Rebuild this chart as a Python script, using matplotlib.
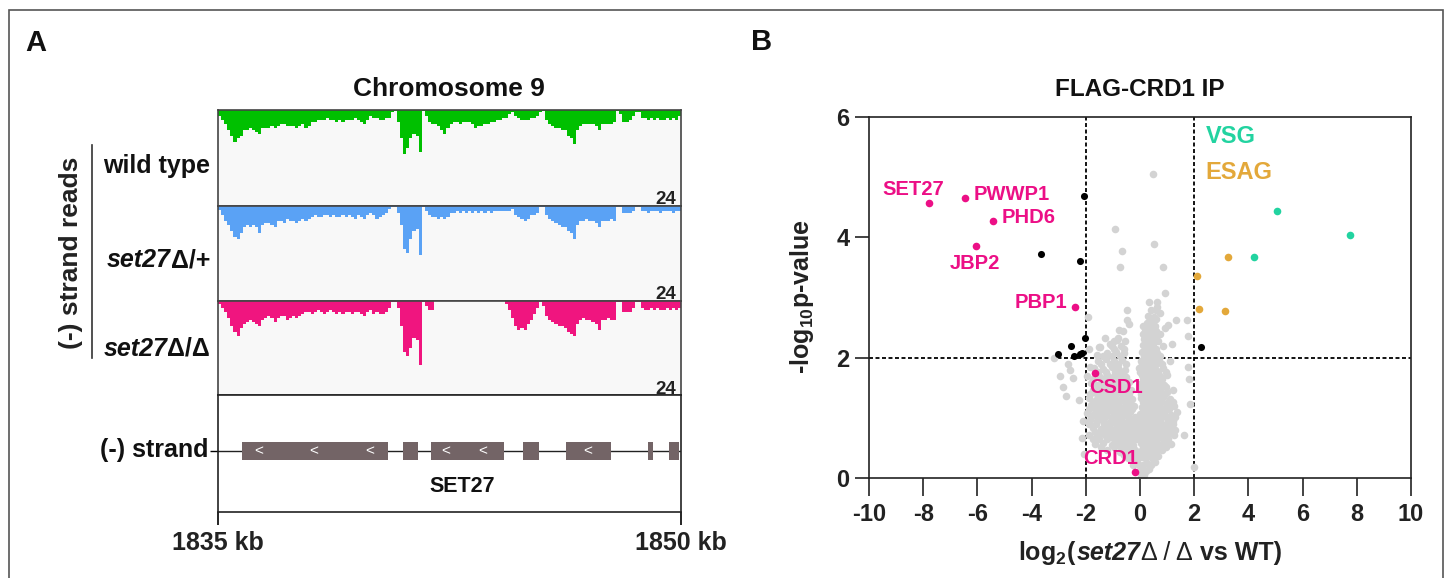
import numpy as np
import matplotlib
matplotlib.use('Agg')
import matplotlib.pyplot as plt
from matplotlib.patches import Rectangle
from matplotlib.offsetbox import TextArea, HPacker, AnnotationBbox

plt.rcParams['font.family'] = ['Liberation Sans', 'DejaVu Sans']
plt.rcParams['font.weight'] = 'bold'
plt.rcParams['axes.unicode_minus'] = False
plt.rcParams['mathtext.fontset'] = 'custom'
plt.rcParams['mathtext.rm'] = 'Liberation Sans:bold'
plt.rcParams['mathtext.it'] = 'Liberation Sans:italic:bold'
plt.rcParams['mathtext.bf'] = 'Liberation Sans:bold'
plt.rcParams['mathtext.sf'] = 'Liberation Sans'

# ---- panel A data: (-) strand read depth in 0.1 kb bins, 1835-1850 kb ----
bin_start = 1835.0
bin_kb = 0.1

wt_depth = [1.5, 2.5, 3.5, 5, 6.5, 8, 7, 6.5, 5, 5,
            4.5, 5, 5.5, 6, 4.5, 4.5, 4.5, 4, 4.5, 4,
            3.5, 3.5, 4, 4, 4, 4.5, 4, 3.5, 4.5, 4,
            3, 3, 2.5, 2.5, 2.5, 2, 2.5, 2.5, 3, 2.5,
            3, 2.5, 2.5, 2.5, 2, 2.5, 3, 3.5, 2.5, 1.5,
            2, 2, 2.5, 2.5, 2, 2, 0.5, 0.3, 3, 7,
            11, 9.5, 7, 6, 6.5, 10.5, 0.3, 1.5, 3, 3.5,
            3.5, 4, 5, 6, 4.5, 3.5, 3, 3, 3.5, 3,
            3, 3, 3.5, 4.5, 4, 4, 3.5, 3.5, 3, 3,
            2.5, 2.5, 2, 2, 1, 0.5, 1.5, 2, 2.5, 2.5,
            2.5, 2, 2, 1.5, 0.5, 0.3, 2.5, 3.5, 4, 4.5,
            4.5, 5, 5, 6.5, 7, 8.5, 5, 4, 3.5, 3.5,
            3.5, 3.5, 4, 5, 3.5, 3.5, 3.5, 3.5, 3, 0.3,
            1, 3, 3, 2.5, 1.5, 0.5, 0.5, 2, 2, 2.5,
            2, 2.5, 2, 2.5, 2.5, 2, 2.5, 2, 2.5, 1.5]

het_depth = [1.2, 2.3, 4, 5, 6.5, 8, 8.5, 7, 5.5, 5,
             5.5, 5, 5.5, 7, 5, 4.5, 4.5, 5, 5.5, 4,
             4, 4.5, 3.5, 4, 4, 4.5, 4, 3.5, 4, 3.5,
             3, 2.5, 3, 3, 2.5, 2.5, 3, 2.5, 3, 3,
             2.5, 3, 2.5, 3, 3.5, 2.5, 3, 3.5, 2.5, 2,
             2.5, 3.5, 3, 2.5, 2, 1, 0.3, 0.3, 2, 5,
             11, 12, 8.5, 6.5, 6, 12.5, 0.5, 1.5, 2.5, 3,
             3, 3.5, 3, 3.5, 3, 2, 2, 1.5, 2, 1.5,
             2, 1.5, 2, 1.5, 2, 1.5, 2, 1.5, 2, 1.5,
             1.5, 1.5, 1.5, 1.5, 1.5, 1, 2.5, 3, 3.5, 4,
             3.5, 2.5, 2.5, 2, 0.5, 0.3, 2.5, 3.5, 4, 4.5,
             5, 5.5, 5.5, 6.5, 7, 8.5, 5, 4, 4, 3.5,
             4, 4, 4.5, 5.5, 4, 4, 4, 3.5, 4, 0.3,
             0.5, 2, 2, 2, 1.5, 0.3, 0.3, 1.5, 1.5, 2,
             1.5, 1.5, 1.5, 2, 1.5, 1.5, 1.5, 2, 1.5, 1.5]

ko_depth = [1, 2, 3, 4.5, 6.5, 8, 9, 7, 6, 5.5,
            5, 5.5, 6, 6.5, 5, 4.5, 4, 4.5, 5.5, 4.5,
            4, 4, 5, 4.5, 4, 4.5, 4, 3.5, 3, 3,
            3.5, 3, 2.5, 3, 3.5, 3, 2.5, 3, 3.5, 3,
            3.5, 3, 3, 3.5, 3, 3, 3.5, 4, 3, 2.5,
            3.5, 3, 3.5, 3.5, 3, 2, 0.3, 0.3, 2, 6.5,
            13, 14, 12, 9.5, 10, 16.5, 0.3, 1.5, 2.5, 2.5,
            0, 0, 0, 0, 0, 0, 0, 0, 0, 0,
            0, 0, 0, 0, 0, 0, 0, 0, 0, 0,
            0, 0, 0, 1, 2.5, 4.5, 6.5, 7.5, 7, 7.5,
            6, 5, 3.5, 2, 0.3, 1.5, 4, 5, 5.5, 6,
            6.5, 6.5, 7, 8, 8.5, 9, 6, 5, 4.5, 5,
            5, 5.5, 6, 7.5, 5, 5, 4.5, 5, 5, 0.3,
            0.5, 3, 3, 3, 2, 0.3, 0.3, 2, 2.5, 2.5,
            2, 2.5, 2, 2.5, 2.5, 2, 2.5, 2, 2.5, 2]

track_colors = ['#00C000', '#5AA2F5', '#F0157F']
depth_max = 24

# SET27 exons (kb) and strand arrows
exon_start = [1835.78, 1840.99, 1841.90, 1844.88, 1846.27, 1848.93, 1849.61]
exon_end = [1840.50, 1841.47, 1844.25, 1845.39, 1847.72, 1849.09, 1849.93]
arrow_pos = [1836.31, 1838.11, 1839.90, 1842.37, 1843.57, 1846.99]

# ---- panel B data: FLAG-CRD1 IP volcano ----
named_genes = ['SET27', 'PWWP1', 'PHD6', 'JBP2', 'PBP1', 'CSD1', 'CRD1']
named_x = [-7.78, -6.45, -5.41, -6.06, -2.41, -1.65, -0.20]
named_y = [4.57, 4.66, 4.27, 3.86, 2.85, 1.74, 0.10]

sig_x = [-2.05, -3.64, -2.21, -2.03, -2.55, -3.01, -2.44, -2.21, -2.13, 2.25]
sig_y = [4.68, 3.73, 3.61, 2.33, 2.19, 2.06, 2.03, 2.06, 2.07, 2.17]

esag_x = [2.09, 3.26, 2.18, 3.14]
esag_y = [3.35, 3.67, 2.81, 2.78]

vsg_x = [5.04, 7.75, 4.21]
vsg_y = [4.44, 4.04, 3.67]

grey_pts = [
    (0.49, 5.05), (-0.91, 4.14), (0.52, 3.89), (-0.68, 3.78), (-0.74, 3.51),
    (0.84, 3.51), (0.92, 3.08), (0.32, 2.93), (0.62, 2.93), (0.64, 2.84),
    (-0.47, 2.80), (-1.91, 2.68), (0.74, 2.75), (-0.49, 2.63), (-0.76, 2.46),
    (-0.39, 2.56), (1.33, 2.63), (1.03, 2.54), (1.75, 2.62), (1.78, 2.36),
    (1.17, 2.23), (1.78, 1.85), (1.82, 1.64), (1.84, 1.23), (1.63, 0.71),
    (2.00, 0.19), (-1.48, 2.18), (-1.05, 2.20), (-1.88, 2.14), (-3.17, 2.00),
    (-2.95, 1.70), (-2.83, 1.52), (-2.73, 1.37), (-2.60, 1.80), (-2.46, 1.66),
    (-2.24, 1.30), (-2.15, 0.66), (-1.85, 1.85), (-1.60, 2.04), (-1.50, 2.17),
    (-2.65, 1.90), (-1.11, 2.23), (-0.84, 2.29), (0.43, 2.47), (0.92, 2.49),
    (-2.12, 0.95), (-2.05, 0.40),
    (0.05, 0.02), (0.15, 0.05),
    (-0.05, 0.12), (0.08, 0.14), (0.22, 0.11), (0.35, 0.15),
    (-0.25, 0.22), (-0.08, 0.24), (0.10, 0.21), (0.24, 0.25), (0.40, 0.22), (0.55, 0.27),
    (-0.45, 0.33), (-0.30, 0.36), (-0.12, 0.31), (0.04, 0.35), (0.18, 0.33), (0.32, 0.37),
    (0.48, 0.32), (0.66, 0.36),
    (-1.20, 0.47), (-0.75, 0.44), (-0.55, 0.48), (-0.38, 0.43), (-0.20, 0.46), (0.02, 0.45),
    (0.15, 0.48), (0.30, 0.44), (0.45, 0.47), (0.60, 0.43), (0.82, 0.46),
    (-1.65, 0.56), (-1.35, 0.59), (-1.05, 0.55), (-0.85, 0.58), (-0.62, 0.57), (-0.42, 0.60),
    (-0.25, 0.55), (0.05, 0.58), (0.18, 0.56), (0.33, 0.60), (0.50, 0.57), (0.72, 0.55),
    (0.95, 0.59), (1.15, 0.56),
    (-1.90, 0.72), (-1.55, 0.68), (-1.30, 0.71), (-1.10, 0.69), (-0.90, 0.73), (-0.70, 0.70),
    (-0.50, 0.68), (-0.32, 0.72), (-0.12, 0.69), (0.08, 0.71), (0.22, 0.68), (0.38, 0.72),
    (0.55, 0.70), (0.78, 0.73), (1.00, 0.69), (1.25, 0.71),
    (-1.75, 0.83), (-1.45, 0.81), (-1.20, 0.84), (-1.00, 0.80), (-0.78, 0.83), (-0.58, 0.82),
    (-0.40, 0.85), (-0.20, 0.81), (0.03, 0.84), (0.16, 0.82), (0.30, 0.80), (0.45, 0.84),
    (0.65, 0.81), (0.88, 0.85), (1.10, 0.82), (1.30, 0.80),
    (-1.85, 0.96), (-1.60, 0.94), (-1.35, 0.97), (-1.12, 0.93), (-0.92, 0.96), (-0.70, 0.95),
    (-0.50, 0.92), (-0.30, 0.97), (-0.10, 0.94), (0.10, 0.96), (0.25, 0.93), (0.40, 0.97),
    (0.58, 0.95), (0.78, 0.92), (1.02, 0.96), (1.22, 0.94),
    (-1.95, 1.08), (-1.70, 1.06), (-1.45, 1.10), (-1.25, 1.07), (-1.00, 1.09), (-0.80, 1.05),
    (-0.60, 1.08), (-0.38, 1.10), (0.00, 1.06), (0.15, 1.09), (0.30, 1.07), (0.48, 1.10),
    (0.68, 1.06), (0.90, 1.08), (1.15, 1.05), (1.38, 1.09),
    (-1.80, 1.21), (-1.55, 1.18), (-1.32, 1.22), (-1.10, 1.19), (-0.88, 1.21), (-0.66, 1.17),
    (-0.45, 1.22), (-0.22, 1.20), (0.06, 1.18), (0.20, 1.21), (0.36, 1.19), (0.55, 1.22),
    (0.75, 1.18), (1.00, 1.21), (1.25, 1.19),
    (-1.90, 1.33), (-1.62, 1.30), (-1.40, 1.34), (-1.18, 1.31), (-0.95, 1.33), (-0.72, 1.30),
    (-0.50, 1.34), (-0.28, 1.31), (0.02, 1.33), (0.16, 1.30), (0.30, 1.34), (0.45, 1.32),
    (0.62, 1.30), (0.85, 1.34), (1.10, 1.31),
    (-1.75, 1.46), (-1.50, 1.43), (-1.25, 1.47), (-1.02, 1.44), (-0.80, 1.46), (-0.58, 1.43),
    (-0.35, 1.47), (0.08, 1.44), (0.22, 1.46), (0.38, 1.43), (0.55, 1.47), (0.75, 1.45),
    (0.98, 1.43), (1.20, 1.46),
    (-1.82, 1.58), (-1.58, 1.55), (-1.35, 1.59), (-1.10, 1.56), (-0.88, 1.58), (-0.65, 1.55),
    (-0.42, 1.59), (0.00, 1.56), (0.14, 1.58), (0.28, 1.55), (0.45, 1.59), (0.65, 1.57),
    (0.88, 1.55),
    (-1.95, 1.70), (-1.48, 1.68), (-1.20, 1.71), (-0.95, 1.69), (-0.72, 1.72), (-0.50, 1.68),
    (0.06, 1.71), (0.20, 1.69), (0.35, 1.72), (0.52, 1.68), (0.72, 1.70), (1.00, 1.71),
    (-1.70, 1.83), (-1.35, 1.81), (-1.05, 1.84), (-0.80, 1.82), (-0.55, 1.80), (-0.05, 1.83),
    (0.12, 1.81), (0.26, 1.84), (0.42, 1.82), (0.60, 1.80), (0.85, 1.83),
    (-1.55, 1.95), (-1.25, 1.97), (-0.95, 1.94), (-0.65, 1.96), (0.02, 1.95), (0.18, 1.93),
    (0.33, 1.97), (0.50, 1.94), (0.70, 1.96), (1.10, 1.95),
    (-1.20, 2.08), (-0.90, 2.10), (-0.58, 2.07), (0.08, 2.09), (0.24, 2.07), (0.40, 2.10),
    (0.62, 2.08),
    (-0.70, 2.20), (0.12, 2.21), (0.30, 2.19), (0.48, 2.22), (0.85, 2.20),
    (-1.30, 2.32), (-0.82, 2.33), (0.15, 2.31), (0.35, 2.34), (0.55, 2.32),
    (-0.62, 2.45), (0.20, 2.44), (0.38, 2.46), (0.60, 2.45),
    (0.25, 2.58), (0.45, 2.57), (0.30, 2.70), (0.50, 2.68),
]

# in-between rows of the dense core: (y, [x, ...])
grey_rows = [
    (0.39, [-0.6, -0.35, -0.15, 0.1, 0.25, 0.4, 0.55]),
    (0.51, [-1.45, -0.95, -0.7, -0.48, -0.3, 0.1, 0.24, 0.38, 0.55, 0.7, 0.95]),
    (0.64, [-1.75, -1.5, -1.2, -0.95, -0.75, -0.55, -0.35, -0.15, 0.12, 0.28, 0.44,
            0.62, 0.85, 1.05]),
    (0.76, [-1.65, -1.4, -1.2, -1.0, -0.8, -0.6, -0.42, -0.22, 0.0, 0.15, 0.3, 0.46,
            0.66, 0.9, 1.12]),
    (0.89, [-1.9, -1.62, -1.33, -1.1, -0.88, -0.68, -0.48, -0.3, -0.05, 0.12, 0.27,
            0.42, 0.55, 0.76, 1.0, 1.2]),
    (1.02, [-1.8, -1.55, -1.3, -1.05, -0.85, -0.65, -0.45, -0.2, 0.08, 0.22, 0.38,
            0.58, 0.8, 1.05, 1.28]),
    (1.14, [-1.88, -1.62, -1.38, -1.15, -0.92, -0.72, -0.52, -0.3, 0.1, 0.25, 0.42,
            0.62, 0.85, 1.08]),
    (1.27, [-1.7, -1.45, -1.22, -1.0, -0.78, -0.55, -0.36, 0.1, 0.24, 0.4, 0.58,
            0.78, 1.02, 1.2]),
    (1.39, [-1.85, -1.58, -1.32, -1.1, -0.88, -0.65, -0.42, 0.05, 0.2, 0.35, 0.52,
            0.7, 0.92]),
    (1.52, [-1.65, -1.4, -1.18, -0.95, -0.72, -0.5, 0.04, 0.18, 0.34, 0.5, 0.72, 0.95]),
    (1.64, [-1.72, -1.45, -1.25, -1.02, -0.8, -0.58, 0.1, 0.25, 0.42, 0.6, 0.82]),
    (1.77, [-1.55, -1.25, -0.92, -0.65, 0.0, 0.15, 0.32, 0.48, 0.66, 0.95]),
    (1.89, [-1.45, -1.1, -0.8, -0.52, 0.08, 0.25, 0.42, 0.58, 0.8]),
    (2.02, [-1.35, -1.05, -0.75, 0.14, 0.3, 0.5, 0.75]),
    (2.14, [-0.95, -0.6, 0.2, 0.38, 0.58]),
    (2.27, [-0.95, -0.55, 0.22, 0.42, 0.65]),
    (2.39, [0.1, 0.28, 0.48, 0.75]),
    (2.52, [0.12, 0.32, 0.55]),
    (2.64, [0.38, 0.58]),
    (2.80, [0.4, 0.6]),
]

grey_x = [p[0] for p in grey_pts] + [x for y, xs in grey_rows for x in xs]
grey_y = [p[1] for p in grey_pts] + [y for y, xs in grey_rows for x in xs]

W, H = 1447, 578
fig = plt.figure(figsize=(W / 100, H / 100), dpi=100)


def px_axes(x0, y0, x1, y1):
    return fig.add_axes([x0 / W, 1 - y1 / H, (x1 - x0) / W, (y1 - y0) / H])


def px_text(x, y, s, **kw):
    return fig.text(x / W, 1 - y / H, s, **kw)


def px_packed(x, y, parts, align=(1, 0.5), **common):
    # row of differently styled text pieces sharing a baseline
    boxes = []
    for s, props in parts:
        tp = dict(common)
        tp.update(props)
        boxes.append(TextArea(s, textprops=tp))
    row = HPacker(children=boxes, align='baseline', pad=0, sep=0)
    ab = AnnotationBbox(row, (x, H - y), xycoords='figure pixels',
                        box_alignment=align, frameon=False, pad=0)
    fig.add_artist(ab)


# outer frame
fig.patches.append(Rectangle((9 / W, -0.02), (1443 - 9) / W, 1 - 10 / H + 0.02,
                             transform=fig.transFigure, fill=False,
                             edgecolor='#555555', lw=1.2))

# ================= panel A =================
edges = bin_start + bin_kb * np.arange(len(wt_depth) + 1)
track_top = [110, 205.5, 300.5]
track_bot = [205.5, 300.5, 395]
for k, depth in enumerate([wt_depth, het_depth, ko_depth]):
    ax = px_axes(218, track_top[k], 681, track_bot[k])
    ax.set_facecolor('#f8f8f8')
    d = np.append(depth, depth[-1])
    ax.fill_between(edges, 0, d, step='post', color=track_colors[k], lw=0)
    ax.set_xlim(1835, 1850)
    ax.set_ylim(depth_max, 0)
    ax.set_xticks([])
    ax.set_yticks([])
    for sp in ax.spines.values():
        sp.set_color('#444444')
        sp.set_linewidth(1.2)
    ax.text(0.99, 0.06, str(depth_max), transform=ax.transAxes, ha='right',
            va='center', fontsize=13.5, color='#222222')

lab = dict(fontsize=18, fontweight='bold', color='#111111')
px_text(210, 166, 'wild type', ha='right', va='center', **lab)
px_packed(210, 260, [('set27', {'style': 'italic'}), ('Δ/+', {})], **lab)
px_packed(210, 349, [('set27', {'style': 'italic'}), ('Δ/Δ', {})], **lab)

# gene model track
gx = px_axes(218, 395, 681, 512)
gx.set_xlim(1835, 1850)
gx.set_ylim(0, 1)
gene_y = 0.52
gx.axhline(gene_y, color='#222222', lw=1.0, zorder=1)
for s, e in zip(exon_start, exon_end):
    gx.add_patch(Rectangle((s, gene_y - 0.077), e - s, 0.154,
                           facecolor='#736466', edgecolor='none', zorder=2))
for a in arrow_pos:
    gx.text(a, gene_y, '<', color='white', ha='center', va='center',
            fontsize=11, fontweight='normal', zorder=3)
gx.text(1842.9, 0.215, 'SET27', ha='center', va='center', fontsize=15.5,
        color='#111111')
for sp in gx.spines.values():
    sp.set_color('#222222')
    sp.set_linewidth(1.2)
gx.set_xticks([1835, 1850])
gx.set_xticklabels(['1835 kb', '1850 kb'], fontsize=18, color='#222222')
gx.tick_params(axis='x', length=9.5, width=1.2, pad=4)
gx.set_yticks([gene_y])
gx.set_yticklabels([''])
gx.tick_params(axis='y', length=6, width=1.0)
px_text(208, 450, '(-) strand', ha='right', va='center', fontsize=18,
        color='#111111')

px_text(449, 89, 'Chromosome 9', ha='center', va='center', fontsize=19,
        color='#111111')
px_text(71, 253, '(-) strand reads', ha='center', va='center', fontsize=19,
        rotation=90, color='#222222')
fig.add_artist(plt.Line2D([92 / W, 92 / W], [1 - 145 / H, 1 - 358 / H],
                          transform=fig.transFigure, color='#333333', lw=1.2))
px_text(36, 43, 'A', ha='center', va='center', fontsize=21, color='#111111')

# ================= panel B =================
bx = px_axes(869, 117, 1411, 478)
bx.set_xlim(-10, 10)
bx.set_ylim(0, 6)
dash = (0, (2.2, 1.4))
bx.axvline(-2, color='black', lw=1.3, ls=dash, zorder=1)
bx.axvline(2, color='black', lw=1.3, ls=dash, zorder=1)
bx.axhline(2, color='black', lw=1.3, ls=dash, zorder=1)

bx.scatter(grey_x, grey_y, s=30, color='#d3d3d3', lw=0, zorder=2)
bx.scatter(sig_x, sig_y, s=26, color='black', lw=0, zorder=3)
bx.scatter(esag_x, esag_y, s=30, color='#E3A83A', lw=0, zorder=3)
bx.scatter(vsg_x, vsg_y, s=30, color='#22D3A0', lw=0, zorder=3)
bx.scatter(named_x, named_y, s=30, color='#EC0F86', lw=0, zorder=4)

pink = '#EC0F86'
label_pos = {
    'SET27': (-8.35, 4.8, 'center'),
    'PWWP1': (-6.15, 4.72, 'left'),
    'PHD6': (-5.1, 4.33, 'left'),
    'JBP2': (-6.1, 3.57, 'center'),
    'PBP1': (-2.7, 2.92, 'right'),
    'CSD1': (-0.88, 1.5, 'center'),
    'CRD1': (-1.1, 0.33, 'center'),
}
for name in named_genes:
    tx, ty, ha = label_pos[name]
    bx.text(tx, ty, name, color=pink, fontsize=14.5, ha=ha, va='center', zorder=5)
bx.text(2.42, 5.68, 'VSG', color='#22D3A0', fontsize=17, ha='left', va='center')
bx.text(2.42, 5.07, 'ESAG', color='#E3A83A', fontsize=17, ha='left', va='center')

bx.set_xticks(np.arange(-10, 11, 2))
bx.set_yticks([0, 2, 4, 6])
bx.tick_params(axis='x', length=13, width=1.2, pad=5, labelsize=17,
               colors='#222222')
bx.tick_params(axis='y', length=10, width=1.2, pad=4, labelsize=17,
               colors='#222222')
for sp in bx.spines.values():
    sp.set_color('#222222')
    sp.set_linewidth(1.2)

px_text(1140, 90, 'FLAG-CRD1 IP', ha='center', va='center', fontsize=17.5,
        color='#111111')
px_text(802, 297, '-log$_{10}$p-value', ha='center', va='center', fontsize=18,
        rotation=90, color='#222222')
px_packed(1150, 553, [('log$_2$(', {}), ('set27', {'style': 'italic'}),
                      ('Δ / Δ', {'fontweight': 'normal'}), (' vs WT)', {})],
          align=(0.5, 0.5), fontsize=18, fontweight='bold', color='#222222')
px_text(762, 42, 'B', ha='center', va='center', fontsize=21, color='#111111')

fig.savefig('out.png', dpi=100)
